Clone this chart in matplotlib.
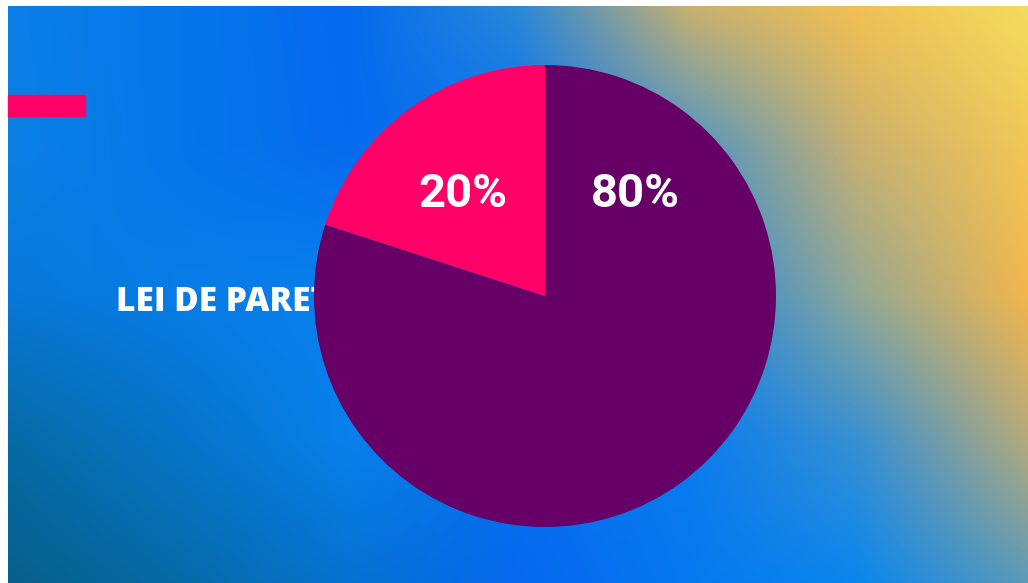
import numpy as np
import matplotlib
matplotlib.use("Agg")
import matplotlib.pyplot as plt
from matplotlib.colors import to_rgb

# ---- data ----
labels = ["Outros", "Principais"]
values = [80, 20]
slice_colors = ["#660066", "#FF0066"]
title_text = "LEI DE PARETO"

# ---- background gradient control colours (rows top->bottom, at grid edges) ----
bg_x = [8, 178, 348, 518, 688, 858, 1028]
bg_y = [6, 150, 295, 439, 583]
bg_grid = [
    ["#0a7fe6", "#0676ea", "#056aee", "#2a88d8", "#c8b070", "#f2c052", "#f2dc5e"],
    ["#0a80e4", "#0676ea", "#066cee", "#0a70ee", "#4a94c8", "#c8b070", "#f2c656"],
    ["#0878d8", "#087ce6", "#0880ee", "#0870ee", "#1a84e4", "#92a896", "#f2b64c"],
    ["#066aa4", "#0674c8", "#0880ea", "#0870ee", "#0a7cee", "#3890d2", "#b4aa7c"],
    ["#06608a", "#066aa6", "#0672d0", "#0668ee", "#0678ee", "#0a86ee", "#5c9ab8"],
]

W, H, DPI = 1028, 583, 100
fig = plt.figure(figsize=(W / DPI, H / DPI), dpi=DPI)
fig.patch.set_facecolor("white")

bg = fig.add_axes([0, 0, 1, 1])
bg.axis("off")

ctrl = np.array([[to_rgb(c) for c in row] for row in bg_grid])  # (5,7,3)
px = np.arange(bg_x[0], bg_x[-1]) + 0.5
py = np.arange(bg_y[0], bg_y[-1]) + 0.5
rows = np.stack([np.stack([np.interp(px, bg_x, ctrl[j, :, k]) for k in range(3)], -1)
                 for j in range(len(bg_y))])  # (5, nx, 3)
img = np.empty((len(py), len(px), 3))
for k in range(3):
    for i in range(len(px)):
        img[:, i, k] = np.interp(py, bg_y, rows[:, i, k])
bg.imshow(img, extent=[bg_x[0], bg_x[-1], bg_y[-1], bg_y[0]], interpolation="bilinear",
          aspect="auto", zorder=0)
bg.set_xlim(0, W)
bg.set_ylim(H, 0)

# pink accent bar
bg.add_patch(plt.Rectangle((8, 95), 77, 21, color="#FF0066", zorder=2))

# title text (partly hidden behind the pie)
bg.text(116, 302, title_text, color="white", fontsize=24, fontweight="heavy",
        family="Open Sans", va="center", ha="left", zorder=3)

# ---- pie ----
cx, cy, r = 545, 296, 231
pax = fig.add_axes([(cx - r) / W, (H - cy - r) / H, 2 * r / W, 2 * r / H])
wedges, _ = pax.pie(values, colors=slice_colors, startangle=90, counterclock=False,
                    radius=1, wedgeprops=dict(linewidth=0))
pax.set_xlim(-1, 1)
pax.set_ylim(-1, 1)
pax.set_aspect("equal")
pax.axis("off")

label_pos = [(0.39, 0.44), (-0.355, 0.44)]
for v, (lx, ly) in zip(values, label_pos):
    pax.text(lx, ly, f"{v}%", color="white", fontsize=34, fontweight="bold",
             family="Roboto", ha="center", va="center")

fig.savefig("out.png", dpi=DPI, facecolor="white")
